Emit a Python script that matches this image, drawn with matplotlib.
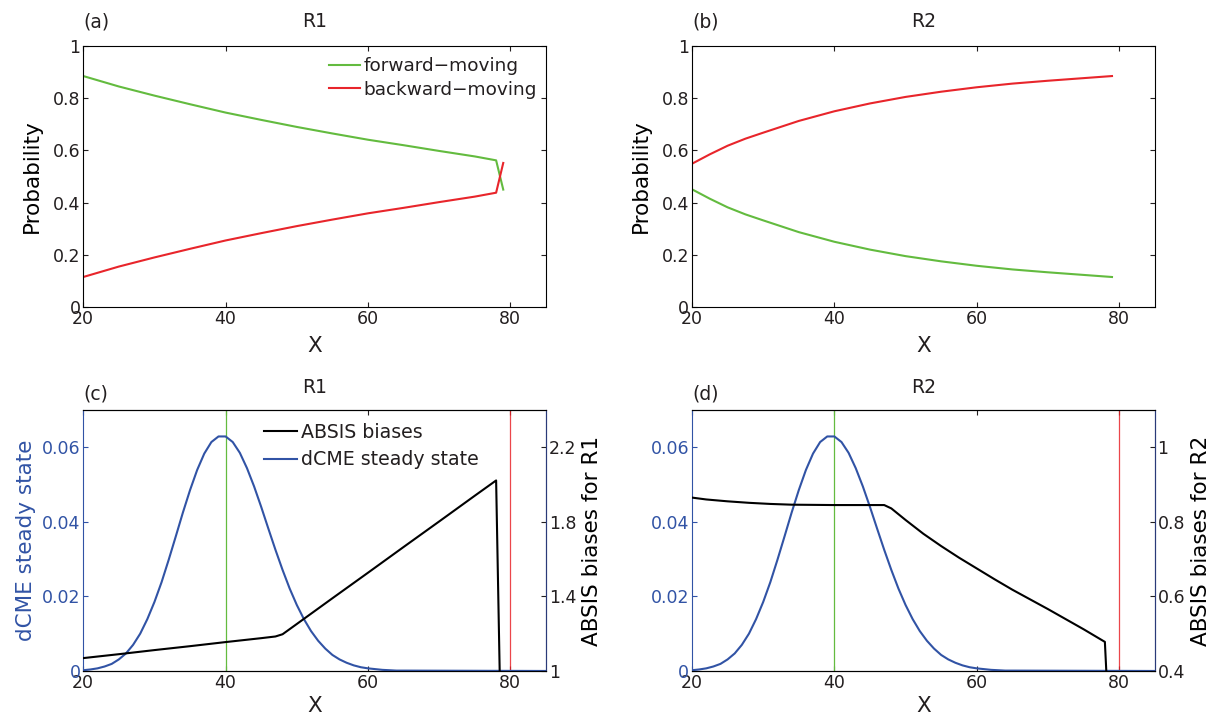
import matplotlib
matplotlib.use("Agg")
import matplotlib.pyplot as plt

GREEN = "#63bb3f"
RED = "#e8252b"
BLUE = "#3153a5"
NAVY = "#2a3a78"
INK = "#231f20"

# (a) R1 probabilities
x_a = [20, 25, 30, 35, 40, 45, 50, 55, 60, 65, 70, 75, 78, 79]
fwd_a = [0.885, 0.845, 0.810, 0.777, 0.745, 0.717, 0.690, 0.665, 0.641, 0.620, 0.598, 0.577, 0.562, 0.450]
bwd_a = [0.115, 0.155, 0.190, 0.223, 0.255, 0.283, 0.310, 0.335, 0.359, 0.380, 0.402, 0.423, 0.438, 0.552]

# (b) R2 probabilities
x_b = [20, 22.5, 25, 27.5, 30, 35, 40, 45, 50, 55, 60, 65, 70, 75, 79]
bwd_b = [0.549, 0.585, 0.618, 0.645, 0.668, 0.713, 0.750, 0.780, 0.805, 0.825, 0.842, 0.856, 0.867, 0.877, 0.885]
fwd_b = [0.451, 0.415, 0.382, 0.355, 0.332, 0.287, 0.250, 0.220, 0.195, 0.175, 0.158, 0.144, 0.133, 0.123, 0.115]

# dCME steady state (same in c and d)
x_ss = list(range(20, 66)) + [85]
steady = [0.0002, 0.0004, 0.0007, 0.0012, 0.0019, 0.0031, 0.0047, 0.0070, 0.0100, 0.0139,
          0.0185, 0.0238, 0.0298, 0.0361, 0.0425, 0.0485, 0.0539, 0.0583, 0.0614, 0.0629,
          0.0629, 0.0614, 0.0585, 0.0544, 0.0495, 0.0440, 0.0382, 0.0325, 0.0271, 0.0221,
          0.0177, 0.0139, 0.0107, 0.0081, 0.0060, 0.0043, 0.0031, 0.0022, 0.0015, 0.0010,
          0.0007, 0.0005, 0.0003, 0.0002, 0.0001, 0.0001, 0.0]

# ABSIS biases
x_c = [20, 25, 30, 35, 40, 45, 47, 48, 50, 55, 60, 65, 70, 75, 78, 78.5]
bias_c = [1.069, 1.090, 1.112, 1.133, 1.155, 1.176, 1.185, 1.197, 1.252, 1.390, 1.527,
          1.665, 1.802, 1.940, 2.022, 1.0]
x_d = [20, 22, 25, 28, 31, 34, 40, 47, 48, 50, 52.5, 55, 57.5, 60, 62.5, 65, 67.5, 70,
       72.5, 75, 78, 78.2]
bias_d = [0.865, 0.860, 0.855, 0.851, 0.848, 0.846, 0.845, 0.845, 0.836, 0.805, 0.768,
          0.735, 0.704, 0.675, 0.646, 0.618, 0.592, 0.566, 0.539, 0.512, 0.478, 0.4]

x_ticks = [20, 40, 60, 80]
prob_ticks = [0, 0.2, 0.4, 0.6, 0.8, 1]
prob_labels = ["0", "0.2", "0.4", "0.6", "0.8", "1"]
ss_ticks = [0, 0.02, 0.04, 0.06]
ss_labels = ["0", "0.02", "0.04", "0.06"]
c_ticks = [1, 1.4, 1.8, 2.2]
c_labels = ["1", "1.4", "1.8", "2.2"]
d_ticks = [0.4, 0.6, 0.8, 1]
d_labels = ["0.4", "0.6", "0.8", "1"]

TICK_FS = 12.5
LABEL_FS = 15.5
TITLE_FS = 13.5
LEG_FS = 13.3

plt.rcParams["font.family"] = ["DejaVu Sans"]
plt.rcParams["text.color"] = INK
plt.rcParams["axes.linewidth"] = 0.8

fig = plt.figure(figsize=(12.1, 7.17), dpi=100)

W = 0.3824
H = 0.364
rects = {
    "a": [0.0688, 0.5718, W, H],
    "b": [0.5719, 0.5718, W, H],
    "c": [0.0688, 0.0642, W, H],
    "d": [0.5719, 0.0642, W, H],
}


def style_x(ax, labelpad):
    ax.set_xlim(20, 85)
    ax.set_xticks(x_ticks)
    ax.set_xticklabels([str(t) for t in x_ticks])
    ax.tick_params(axis="x", direction="in", top=True, bottom=True, length=3.6,
                   width=0.8, labelsize=TICK_FS, pad=2, colors=INK)
    ax.set_xlabel("X", fontsize=LABEL_FS, labelpad=labelpad, color=INK)


def headers(ax, tag, title, dy, pad):
    ax.text(0.0, 1.055 - dy, tag, transform=ax.transAxes, fontsize=TITLE_FS,
            ha="left", va="bottom")
    ax.set_title(title, fontsize=TITLE_FS, pad=pad)


# ---- (a) and (b) ----
for key, xs, fwd, bwd, title, tag in [
    ("a", x_a, fwd_a, bwd_a, "R1", "(a)"),
    ("b", x_b, fwd_b, bwd_b, "R2", "(b)"),
]:
    ax = fig.add_axes(rects[key])
    ax.plot(xs, fwd, color=GREEN, lw=1.5, label="forward\u2212moving")
    ax.plot(xs, bwd, color=RED, lw=1.5, label="backward\u2212moving")
    style_x(ax, 6)
    ax.set_ylim(0, 1)
    ax.set_yticks(prob_ticks)
    ax.set_yticklabels(prob_labels)
    ax.tick_params(axis="y", direction="in", left=True, right=True, length=3.6,
                   width=0.8, labelsize=TICK_FS, pad=2, colors=INK)
    ax.set_ylabel("Probability", fontsize=LABEL_FS, labelpad=8)
    headers(ax, tag, title, 0.0, 14)
    if key == "a":
        ax.legend(loc="upper right", bbox_to_anchor=(1.005, 1.0), frameon=False,
                  fontsize=LEG_FS, handlelength=1.7, handletextpad=0.2,
                  labelspacing=0.3, borderaxespad=0.2)

# ---- (c) and (d) ----
for key, xs, bias, yt, yl, ylim, title, tag in [
    ("c", x_c, bias_c, c_ticks, c_labels, (1, 2.4), "R1", "(c)"),
    ("d", x_d, bias_d, d_ticks, d_labels, (0.4, 1.1), "R2", "(d)"),
]:
    ax = fig.add_axes(rects[key])
    ax2 = ax.twinx()

    h_ss, = ax.plot(x_ss, steady, color=BLUE, lw=1.5, label="dCME steady state", zorder=3)
    ax.axvline(40, color=GREEN, lw=0.9)
    ax.axvline(80, color=RED, lw=0.9, alpha=0.85)
    h_b, = ax2.plot(xs, bias, color="black", lw=1.5, label="ABSIS biases")

    style_x(ax, 3)
    ax.set_ylim(0, 0.07)
    ax.set_yticks(ss_ticks)
    ax.set_yticklabels(ss_labels)
    ax.tick_params(axis="y", direction="in", length=3.6, width=0.8,
                   labelsize=TICK_FS, pad=2, colors=BLUE)
    ax.spines["left"].set_color(BLUE)
    ax.spines["right"].set_color(NAVY)
    if key == "c":
        ax.set_ylabel("dCME steady state", fontsize=LABEL_FS, color=BLUE, labelpad=4)

    ax2.set_ylim(*ylim)
    ax2.set_yticks(yt)
    ax2.set_yticklabels(yl)
    ax2.tick_params(axis="y", direction="in", length=3.6, width=0.8,
                    labelsize=TICK_FS, pad=2, colors=INK)
    ax2.spines["left"].set_visible(False)
    ax2.spines["right"].set_color(NAVY)
    ax2.set_ylabel(f"ABSIS biases for {title}", fontsize=LABEL_FS, labelpad=4)

    headers(ax, tag, title, 0.03, 12)
    if key == "c":
        ax.legend(handles=[h_b, h_ss], loc="upper left", bbox_to_anchor=(0.375, 0.98),
                  frameon=False, fontsize=LEG_FS + 0.4, handlelength=1.7, handletextpad=0.2,
                  labelspacing=0.45, borderaxespad=0.0)

fig.savefig("out.png", dpi=100)
